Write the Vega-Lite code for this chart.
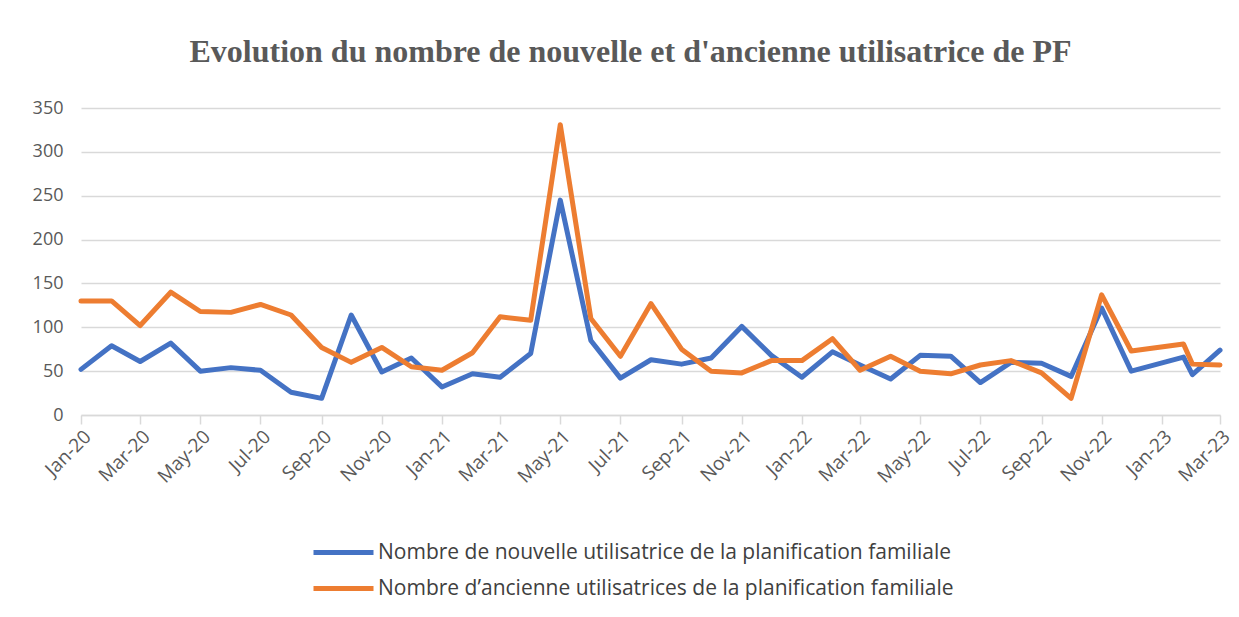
{
  "$schema": "https://vega.github.io/schema/vega-lite/v6.json",
  "width": 1139,
  "height": 307,
  "autosize": {"type": "none"},
  "padding": {"left": 81, "top": 108, "right": 19, "bottom": 202},
  "background": "white",
  "title": {
    "text": "Evolution du nombre de nouvelle et d'ancienne utilisatrice de PF",
    "font": "Liberation Serif",
    "fontSize": 32,
    "fontWeight": "bold",
    "color": "#595959",
    "anchor": "middle",
    "dx": -20,
    "offset": 30
  },
  "data": {
    "values": [
      {"date": "2020-01-01", "serie": "nouvelle", "valeur": 52},
      {"date": "2020-02-01", "serie": "nouvelle", "valeur": 79},
      {"date": "2020-03-01", "serie": "nouvelle", "valeur": 61},
      {"date": "2020-04-01", "serie": "nouvelle", "valeur": 82},
      {"date": "2020-05-01", "serie": "nouvelle", "valeur": 50},
      {"date": "2020-06-01", "serie": "nouvelle", "valeur": 54},
      {"date": "2020-07-01", "serie": "nouvelle", "valeur": 51},
      {"date": "2020-08-01", "serie": "nouvelle", "valeur": 26},
      {"date": "2020-09-01", "serie": "nouvelle", "valeur": 19},
      {"date": "2020-10-01", "serie": "nouvelle", "valeur": 114},
      {"date": "2020-11-01", "serie": "nouvelle", "valeur": 49},
      {"date": "2020-12-01", "serie": "nouvelle", "valeur": 65},
      {"date": "2021-01-01", "serie": "nouvelle", "valeur": 32},
      {"date": "2021-02-01", "serie": "nouvelle", "valeur": 47},
      {"date": "2021-03-01", "serie": "nouvelle", "valeur": 43},
      {"date": "2021-04-01", "serie": "nouvelle", "valeur": 70},
      {"date": "2021-05-01", "serie": "nouvelle", "valeur": 245},
      {"date": "2021-06-01", "serie": "nouvelle", "valeur": 85},
      {"date": "2021-07-01", "serie": "nouvelle", "valeur": 42},
      {"date": "2021-08-01", "serie": "nouvelle", "valeur": 63},
      {"date": "2021-09-01", "serie": "nouvelle", "valeur": 58},
      {"date": "2021-10-01", "serie": "nouvelle", "valeur": 65},
      {"date": "2021-11-01", "serie": "nouvelle", "valeur": 101},
      {"date": "2021-12-01", "serie": "nouvelle", "valeur": 68},
      {"date": "2022-01-01", "serie": "nouvelle", "valeur": 43},
      {"date": "2022-02-01", "serie": "nouvelle", "valeur": 72},
      {"date": "2022-03-01", "serie": "nouvelle", "valeur": 57},
      {"date": "2022-04-01", "serie": "nouvelle", "valeur": 41},
      {"date": "2022-05-01", "serie": "nouvelle", "valeur": 68},
      {"date": "2022-06-01", "serie": "nouvelle", "valeur": 67},
      {"date": "2022-07-01", "serie": "nouvelle", "valeur": 37},
      {"date": "2022-08-01", "serie": "nouvelle", "valeur": 60},
      {"date": "2022-09-01", "serie": "nouvelle", "valeur": 59},
      {"date": "2022-10-01", "serie": "nouvelle", "valeur": 44},
      {"date": "2022-11-01", "serie": "nouvelle", "valeur": 122},
      {"date": "2022-12-01", "serie": "nouvelle", "valeur": 50},
      {"date": "2023-01-23", "serie": "nouvelle", "valeur": 66},
      {"date": "2023-02-01", "serie": "nouvelle", "valeur": 46},
      {"date": "2023-03-01", "serie": "nouvelle", "valeur": 74},
      {"date": "2020-01-01", "serie": "ancienne", "valeur": 130},
      {"date": "2020-02-01", "serie": "ancienne", "valeur": 130},
      {"date": "2020-03-01", "serie": "ancienne", "valeur": 102},
      {"date": "2020-04-01", "serie": "ancienne", "valeur": 140},
      {"date": "2020-05-01", "serie": "ancienne", "valeur": 118},
      {"date": "2020-06-01", "serie": "ancienne", "valeur": 117},
      {"date": "2020-07-01", "serie": "ancienne", "valeur": 126},
      {"date": "2020-08-01", "serie": "ancienne", "valeur": 114},
      {"date": "2020-09-01", "serie": "ancienne", "valeur": 77},
      {"date": "2020-10-01", "serie": "ancienne", "valeur": 60},
      {"date": "2020-11-01", "serie": "ancienne", "valeur": 77},
      {"date": "2020-12-01", "serie": "ancienne", "valeur": 55},
      {"date": "2021-01-01", "serie": "ancienne", "valeur": 51},
      {"date": "2021-02-01", "serie": "ancienne", "valeur": 71},
      {"date": "2021-03-01", "serie": "ancienne", "valeur": 112},
      {"date": "2021-04-01", "serie": "ancienne", "valeur": 108},
      {"date": "2021-05-01", "serie": "ancienne", "valeur": 331},
      {"date": "2021-06-01", "serie": "ancienne", "valeur": 110},
      {"date": "2021-07-01", "serie": "ancienne", "valeur": 67},
      {"date": "2021-08-01", "serie": "ancienne", "valeur": 127},
      {"date": "2021-09-01", "serie": "ancienne", "valeur": 75},
      {"date": "2021-10-01", "serie": "ancienne", "valeur": 50},
      {"date": "2021-11-01", "serie": "ancienne", "valeur": 48},
      {"date": "2021-12-01", "serie": "ancienne", "valeur": 62},
      {"date": "2022-01-01", "serie": "ancienne", "valeur": 62},
      {"date": "2022-02-01", "serie": "ancienne", "valeur": 87},
      {"date": "2022-03-01", "serie": "ancienne", "valeur": 51},
      {"date": "2022-04-01", "serie": "ancienne", "valeur": 67},
      {"date": "2022-05-01", "serie": "ancienne", "valeur": 50},
      {"date": "2022-06-01", "serie": "ancienne", "valeur": 47},
      {"date": "2022-07-01", "serie": "ancienne", "valeur": 57},
      {"date": "2022-08-01", "serie": "ancienne", "valeur": 62},
      {"date": "2022-09-01", "serie": "ancienne", "valeur": 48},
      {"date": "2022-10-01", "serie": "ancienne", "valeur": 19},
      {"date": "2022-11-01", "serie": "ancienne", "valeur": 137},
      {"date": "2022-12-01", "serie": "ancienne", "valeur": 73},
      {"date": "2023-01-23", "serie": "ancienne", "valeur": 81},
      {"date": "2023-02-01", "serie": "ancienne", "valeur": 58},
      {"date": "2023-03-01", "serie": "ancienne", "valeur": 57}
    ]
  },
  "transform": [
    {"calculate": "datum.serie === 'nouvelle' ? 'Nombre de nouvelle utilisatrice de la planification familiale' : 'Nombre d\u2019ancienne utilisatrices de la planification familiale'", "as": "Série"}
  ],
  "mark": {"type": "line", "strokeWidth": 5, "strokeJoin": "round", "strokeCap": "round"},
  "encoding": {
    "x": {
      "field": "date",
      "type": "temporal",
      "scale": {
        "type": "utc",
        "domain": [
          {"year": 2020, "month": 1, "date": 1, "utc": true},
          {"year": 2023, "month": 3, "date": 1, "utc": true}
        ],
        "nice": false
      },
      "axis": {
        "title": null,
        "format": "%b-%y",
        "tickCount": {"interval": "month", "step": 2},
        "labelAngle": -45,
        "labelAlign": "right",
        "labelBaseline": "top",
        "labelFont": "Open Sans",
        "labelFontSize": 19,
        "labelColor": "#595959",
        "labelPadding": 3,
        "labelOverlap": false,
        "labelFlush": false,
        "domainColor": "#d9d9d9",
        "domainWidth": 1.5,
        "tickColor": "#d9d9d9",
        "tickWidth": 1.5,
        "tickSize": 9,
        "grid": false
      }
    },
    "y": {
      "field": "valeur",
      "type": "quantitative",
      "scale": {"domain": [0, 350], "nice": false},
      "axis": {
        "title": null,
        "values": [0, 50, 100, 150, 200, 250, 300, 350],
        "labelFont": "Open Sans",
        "labelFontSize": 18,
        "labelColor": "#595959",
        "labelPadding": 18,
        "domain": false,
        "ticks": false,
        "gridColor": "#d9d9d9",
        "gridWidth": 1.5
      }
    },
    "color": {
      "field": "Série",
      "type": "nominal",
      "scale": {
        "domain": [
          "Nombre de nouvelle utilisatrice de la planification familiale",
          "Nombre d\u2019ancienne utilisatrices de la planification familiale"
        ],
        "range": ["#4472C4", "#ED7D31"]
      },
      "legend": {
        "title": null,
        "orient": "none",
        "legendX": 250,
        "legendY": 432,
        "direction": "vertical",
        "symbolType": "M-3,0H3",
        "symbolSize": 400,
        "symbolStrokeWidth": 5,
        "symbolFillColor": "transparent",
        "labelFont": "Open Sans",
        "labelFontSize": 21,
        "labelColor": "#404040",
        "labelLimit": 900,
        "labelOffset": 22,
        "rowPadding": 13
      }
    }
  },
  "config": {"view": {"stroke": null}}
}
